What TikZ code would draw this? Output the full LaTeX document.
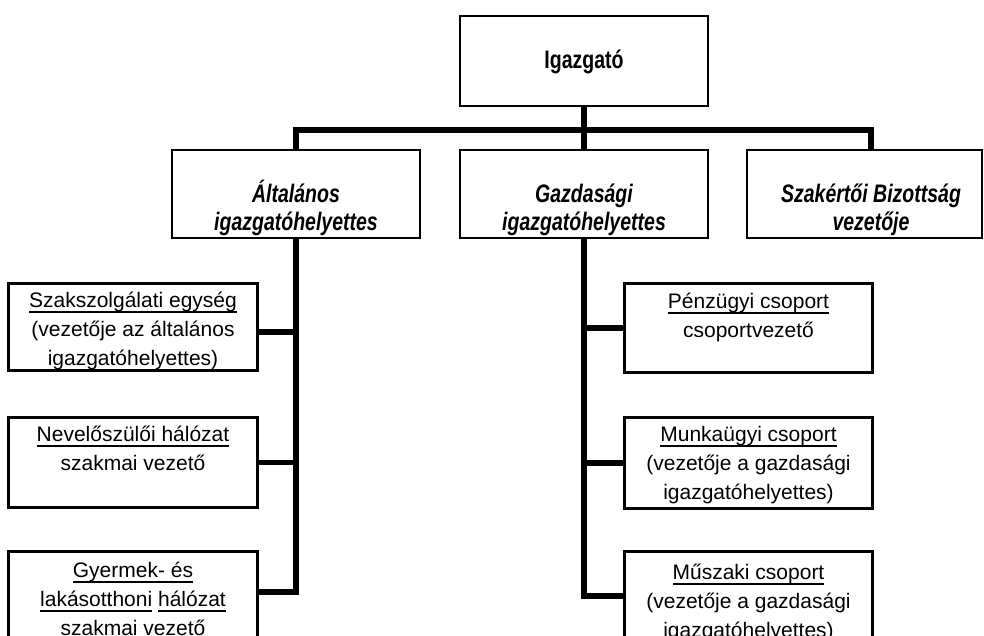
\documentclass[tikz,border=0pt]{standalone}
\usepackage{fontspec}
\setmainfont{Liberation Sans}
\newfontfamily\narrowfont{Liberation Sans}[FakeStretch=0.77]
\newcommand\myul[1]{\sbox0{#1}\rlap{\rule[-4pt]{\wd0}{1.1pt}}\usebox0}
\begin{document}
\begin{tikzpicture}[x=0.75pt,y=-0.75pt,
  box/.style={draw=black,line width=1.3pt,fill=white,rectangle,inner sep=0pt,minimum width=186pt},
  conn/.style={draw=black,line width=4pt,line join=miter},
  toptext/.style={inner sep=0pt,anchor=north,align=center,font={\narrowfont\bfseries\fontsize{19}{21}\selectfont}},
  lowtext/.style={inner sep=0pt,anchor=north,align=center,font={\fontsize{15.75}{22}\selectfont}}]
\useasboundingbox (0,0) rectangle (984,635);
\clip (0,0) rectangle (984,635);
\fill[white] (0,0) rectangle (984,635);

% boxes
\node[box,minimum height=67.5pt] (dir) at (584,61) {};
\node[box,minimum height=66pt] (alt) at (296,194) {};
\node[box,minimum height=66pt] (gaz) at (584,194) {};
\node[box,minimum height=66pt,minimum width=176.25pt] (szb) at (864.5,194) {};
\node[box,minimum height=64.5pt] (szak) at (133,327) {};
\node[box,minimum height=66.75pt] (nev) at (133,462.5) {};
\node[box,minimum height=66pt] (gyer) at (133,596) {};
\node[box,minimum height=66pt,minimum width=185.25pt] (penz) at (748.5,328) {};
\node[box,minimum height=67.5pt,minimum width=185.25pt] (munk) at (748.5,463) {};
\node[box,minimum height=66pt,minimum width=185.25pt] (musz) at (748.5,596) {};

% upper texts
\node[toptext] (t-dir) at (584,44) {\rule{0pt}{18pt}Igazgató};
\node[toptext] (t-alt) at (296,178) {\itshape\rule{0pt}{18pt}Általános\\\itshape igazgatóhelyettes};
\node[toptext] (t-gaz) at (584,178) {\itshape\rule{0pt}{18pt}Gazdasági\\\itshape igazgatóhelyettes};
\node[toptext] (t-szb) at (871,178) {\itshape\rule{0pt}{18pt}Szakértői Bizottság\\\itshape vezetője};

% lower texts (clipped by their boxes)
\begin{scope}
\clip (szak.south west) rectangle (szak.north east);
\node[lowtext] (t-szak) at (133,287) {\rule{0pt}{15pt}\myul{Szakszolgálati egység}\\(vezetője az általános\\igazgatóhelyettes)};
\end{scope}
\begin{scope}
\clip (nev.south west) rectangle (nev.north east);
\node[lowtext] (t-nev) at (133,421) {\rule{0pt}{15pt}\myul{Nevelőszülői hálózat}\\szakmai vezető};
\end{scope}
\begin{scope}
\clip (gyer.south west) rectangle (gyer.north east);
\node[lowtext] (t-gyer) at (133,557) {\rule{0pt}{15pt}\myul{Gyermek- és}\\\myul{lakásotthoni} \myul{hálózat}\\szakmai vezető};
\end{scope}
\begin{scope}
\clip (penz.south west) rectangle (penz.north east);
\node[lowtext] (t-penz) at (748.5,288) {\rule{0pt}{15pt}\myul{Pénzügyi csoport}\\csoportvezető};
\end{scope}
\begin{scope}
\clip (munk.south west) rectangle (munk.north east);
\node[lowtext] (t-munk) at (748.5,421) {\rule{0pt}{15pt}\myul{Munkaügyi csoport}\\(vezetője a gazdasági\\igazgatóhelyettes)};
\end{scope}
\begin{scope}
\clip (musz.south west) rectangle (musz.north east);
\node[lowtext] (t-musz) at (748.5,559) {\rule{0pt}{15pt}\myul{Műszaki csoport}\\(vezetője a gazdasági\\igazgatóhelyettes)};
\end{scope}

% redraw borders on top of clipped text
\foreach \b in {szak,nev,gyer,penz,munk,musz}{
  \draw[line width=1.3pt] (\b.south west) rectangle (\b.north east);
}

% connectors
\coordinate (bl) at (296,130);
\coordinate (br) at (871,130);
\draw[conn] (dir.south) -- (dir.south |- bl);
\draw[conn] (alt.north) -- (bl) -- (br) -- (br |- szb.north);
\draw[conn] (gaz.north) -- (gaz.north |- bl);

\draw[conn] (alt.south) |- ([yshift=3pt]gyer.east);
\draw[conn] (alt.south |- szak.east) ++(0,5) -- ([yshift=-3.75pt]szak.east);
\draw[conn] (alt.south |- nev.east) -- (nev.east);

\draw[conn] (gaz.south) |- (musz.west);
\draw[conn] (gaz.south |- penz.west) -- (penz.west);
\draw[conn] (gaz.south |- munk.west) -- (munk.west);
\end{tikzpicture}
\end{document}
